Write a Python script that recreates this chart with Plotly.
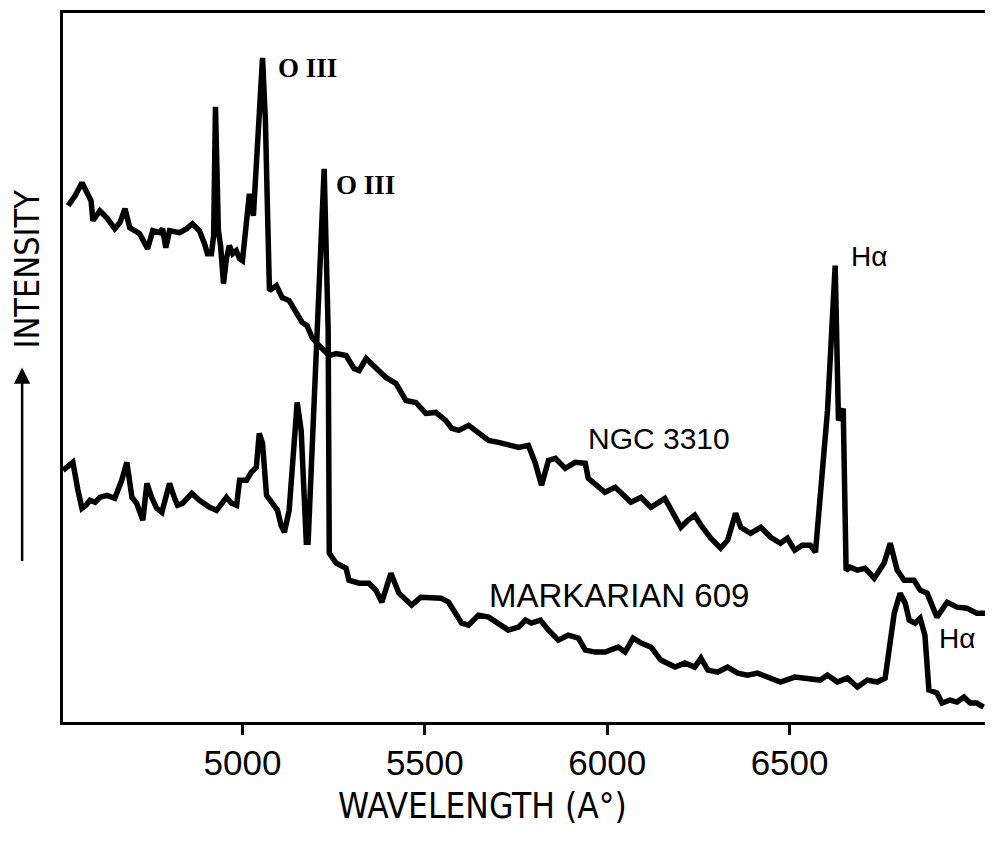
import plotly.graph_objects as go

# NGC 3310 spectrum (wavelength in Angstrom, intensity in arbitrary units)
ngc_wl = [4522, 4541, 4560, 4576, 4585, 4590, 4609, 4628, 4650, 4664, 4678, 4691, 4718, 4740,
          4754, 4773, 4781, 4790, 4800, 4828, 4847, 4863, 4882, 4896, 4904, 4915, 4921, 4926,
          4934, 4940, 4948, 4956, 4964, 4973, 4983, 4992, 5000, 5019, 5030, 5055, 5063, 5068,
          5074, 5093, 5109, 5128, 5147, 5164, 5177, 5191, 5210, 5238, 5257, 5284, 5306, 5320,
          5339, 5366, 5393, 5421, 5448, 5475, 5503, 5530, 5557, 5574, 5593, 5620, 5647, 5675,
          5702, 5729, 5757, 5784, 5803, 5820, 5839, 5858, 5885, 5912, 5940, 5948, 5975, 5994,
          6022, 6044, 6065, 6093, 6120, 6158, 6175, 6202, 6221, 6240, 6257, 6284, 6311, 6330,
          6352, 6366, 6393, 6421, 6448, 6475, 6494, 6514, 6535, 6557, 6571, 6604, 6625, 6634,
          6647, 6655, 6666, 6686, 6707, 6732, 6759, 6776, 6795, 6814, 6841, 6858, 6877, 6904,
          6932, 6959, 6986, 7013, 7041]
ngc_int = [517, 527, 540, 530, 522, 502, 512, 505, 494, 500, 514, 495, 489, 474,
           492, 490, 494, 475, 492, 490, 494, 499, 492, 479, 469, 469, 487, 616,
           492, 477, 439, 464, 477, 469, 472, 464, 462, 529, 507, 665, 602, 522,
           432, 437, 425, 422, 410, 400, 397, 385, 377, 367, 369, 367, 354, 352,
           364, 355, 345, 339, 322, 320, 309, 310, 302, 294, 292, 297, 289, 282,
           280, 277, 275, 277, 259, 237, 262, 264, 254, 260, 259, 244, 235, 230,
           235, 227, 220, 225, 215, 224, 212, 195, 202, 207, 197, 184, 174, 182,
           209, 195, 189, 195, 185, 179, 184, 172, 177, 177, 170, 312, 457, 302,
           314, 152, 155, 152, 154, 144, 159, 179, 152, 142, 142, 132, 129, 105,
           120, 115, 114, 109, 109]

# Markarian 609 spectrum
mrk_wl = [4508, 4522, 4535, 4549, 4560, 4571, 4582, 4596, 4609, 4628, 4650, 4669, 4683, 4697,
          4710, 4727, 4738, 4751, 4765, 4779, 4800, 4814, 4822, 4836, 4861, 4882, 4910, 4929,
          4943, 4956, 4970, 4984, 4992, 5011, 5024, 5038, 5046, 5055, 5066, 5082, 5096, 5106,
          5115, 5128, 5150, 5161, 5175, 5180, 5224, 5235, 5238, 5257, 5284, 5292, 5320, 5347,
          5366, 5382, 5407, 5429, 5464, 5489, 5519, 5544, 5565, 5601, 5620, 5647, 5675, 5702,
          5729, 5757, 5776, 5792, 5817, 5839, 5866, 5893, 5921, 5940, 5967, 5994, 6030, 6049,
          6071, 6093, 6120, 6147, 6186, 6213, 6240, 6257, 6276, 6303, 6330, 6358, 6385, 6412,
          6440, 6475, 6514, 6549, 6584, 6604, 6631, 6658, 6686, 6713, 6740, 6762, 6787, 6803,
          6817, 6828, 6844, 6858, 6871, 6882, 6904, 6918, 6940, 6959, 6978, 6995, 7013, 7032]
mrk_int = [252, 257, 260, 232, 214, 217, 222, 220, 225, 227, 224, 242, 260, 225,
           219, 202, 239, 225, 214, 210, 239, 224, 217, 219, 229, 222, 215, 212,
           220, 225, 219, 217, 242, 242, 250, 255, 289, 279, 227, 220, 212, 197,
           190, 212, 320, 292, 180, 180, 554, 392, 169, 159, 154, 142, 139, 139,
           132, 120, 149, 129, 117, 125, 125, 124, 120, 99, 97, 107, 105, 99,
           92, 95, 102, 99, 102, 92, 82, 87, 84, 72, 70, 70, 75, 70,
           84, 79, 75, 62, 55, 59, 55, 64, 52, 50, 55, 49, 47, 49,
           45, 40, 45, 44, 42, 47, 40, 44, 35, 42, 40, 44, 109, 129,
           119, 102, 99, 104, 87, 32, 29, 19, 22, 20, 25, 19, 19, 15]

tick_vals = [5000, 5500, 6000, 6500]
tick_text = ["5000", "5500", "6000", "6500"]

# line labels: (text, wavelength, intensity, font size)
line_labels = [
    ("O III", 5093, 655, 27),
    ("O III", 5251, 538, 27),
]
halpha_labels = [
    ("Hα", 6664, 466, 28),
    ("Hα", 6904, 84, 28),
]
series_labels = [
    ("NGC 3310", 5942, 284, 30),
    ("MARKARIAN 609", 5670, 127, 33),
]

sans = "Liberation Sans, Arial, sans-serif"
narrow = "Liberation Sans Narrow, DejaVu Sans Condensed, Arial Narrow, sans-serif"

fig = go.Figure()
fig.add_trace(go.Scatter(x=ngc_wl, y=ngc_int, mode="lines",
                         line=dict(color="black", width=5.5), showlegend=False))
fig.add_trace(go.Scatter(x=mrk_wl, y=mrk_int, mode="lines",
                         line=dict(color="black", width=5.5), showlegend=False))

for txt, xv, yv, sz in line_labels:
    fig.add_annotation(x=xv, y=yv, text=txt, showarrow=False, xanchor="left", yanchor="middle",
                       font=dict(family="Liberation Serif, Times New Roman, serif", size=sz,
                                 color="black", weight="bold"))
for txt, xv, yv, sz in halpha_labels:
    fig.add_annotation(x=xv, y=yv, text=txt, showarrow=False, xanchor="left", yanchor="middle",
                       font=dict(family=sans, size=sz, color="black"))
for txt, xv, yv, sz in series_labels:
    fig.add_annotation(x=xv, y=yv, text=txt, showarrow=False, xanchor="left", yanchor="middle",
                       font=dict(family=sans, size=sz, color="black"))

fig.add_annotation(xref="paper", yref="paper", x=0.4537, y=-0.1183, text="WAVELENGTH (A°)",
                   showarrow=False, xanchor="center", yanchor="middle",
                   font=dict(family=narrow, size=35, color="black"))
fig.add_annotation(xref="paper", yref="paper", x=-0.039, y=0.6394, text="INTENSITY",
                   showarrow=False, xanchor="center", yanchor="middle", textangle=-90,
                   font=dict(family=narrow, size=34, color="black"))
# upward arrow next to the intensity label
fig.add_annotation(xref="paper", yref="paper", x=-0.0442, y=0.5, text="",
                   showarrow=True, arrowhead=2, arrowsize=1.3, arrowwidth=2.5,
                   arrowcolor="black", ax=0, ay=195)

fig.update_xaxes(range=[4508, 7044], tickvals=tick_vals, ticktext=tick_text,
                 ticks="outside", ticklen=10, tickwidth=2.5, tickcolor="black",
                 ticklabelstandoff=-2,
                 showline=True, linewidth=3, linecolor="black", mirror=True,
                 showgrid=False, zeroline=False,
                 tickfont=dict(family=sans, size=35, color="black"))
fig.update_yaxes(range=[0, 710], showticklabels=False, ticks="",
                 showline=True, linewidth=3, linecolor="black", mirror=True,
                 showgrid=False, zeroline=False)

# page body adds ~8px offset; compensate so the plot frame lands at 63..991 x 12..722
fig.update_layout(width=985, height=840, margin=dict(l=55, r=2, t=4, b=126),
                  plot_bgcolor="white", paper_bgcolor="white")

fig.write_html("out.html")
